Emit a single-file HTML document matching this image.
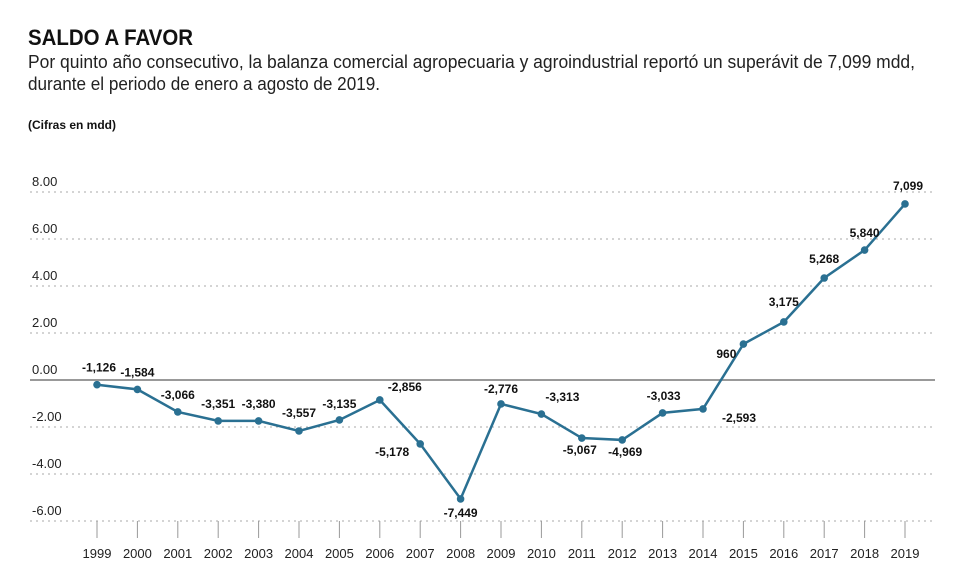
<!DOCTYPE html>
<html><head><meta charset="utf-8"><style>
body{margin:0;background:#fff;}
svg{display:block;font-family:"Liberation Sans",sans-serif;}
</style></head><body>
<svg id="chart" width="958" height="576">
<text x="28" y="45" font-size="22" font-weight="bold" fill="#111" textLength="165" lengthAdjust="spacingAndGlyphs">SALDO A FAVOR</text>
<text x="28" y="68" font-size="18" fill="#222" textLength="887" lengthAdjust="spacingAndGlyphs">Por quinto año consecutivo, la balanza comercial agropecuaria y agroindustrial reportó un superávit de 7,099 mdd,</text>
<text x="28" y="90" font-size="18" fill="#222" textLength="352" lengthAdjust="spacingAndGlyphs">durante el periodo de enero a agosto de 2019.</text>
<text x="28" y="129" font-size="12" font-weight="bold" fill="#111">(Cifras en mdd)</text>
<g id="grid"></g><g id="xaxis"></g><g id="series"></g><g id="labels"></g>
</svg>
<script>
const years=["1999","2000","2001","2002","2003","2004","2005","2006","2007","2008","2009","2010","2011","2012","2013","2014","2015","2016","2017","2018","2019"];
const plotted=[-0.2,-0.4,-1.36,-1.74,-1.74,-2.17,-1.7,-0.85,-2.72,-5.06,-1.02,-1.45,-2.47,-2.55,-1.4,-1.23,1.53,2.47,4.34,5.53,7.49];
const valueLabels=["-1,126","-1,584","-3,066","-3,351","-3,380","-3,557","-3,135","-2,856","-5,178","-7,449","-2,776","-3,313","-5,067","-4,969","-3,033","-2,593","960","3,175","5,268","5,840","7,099"];
const yTicks=[8,6,4,2,0,-2,-4,-6];
const labelDx=[2,0,0,0,0,0,0,25,-28,0,0,21,-2,3,1,36,-17,0,0,0,3];
const labelDy=[-17,-17,-17,-17,-17,-18,-16,-13,8,14,-15,-17,12,12,-17,9,10,-20,-19,-17,-18];
const NS="http://www.w3.org/2000/svg";
const x=i=>97+i*(905-97)/(years.length-1);
const y=v=>380-v*23.5;
function mk(tag,attrs,parent){const e=document.createElementNS(NS,tag);for(const k in attrs)e.setAttribute(k,attrs[k]);parent.appendChild(e);return e;}
const grid=document.getElementById('grid');
yTicks.forEach(t=>{
  const l=mk('line',{x1:30,x2:935,y1:y(t),y2:y(t),stroke:t===0?'#999':'#aaa','stroke-width':t===0?2:1,'stroke-dasharray':t===0?'none':'2,4'},grid);
  
  
  const tx=mk('text',{x:32,y:y(t)-6,'font-size':13,fill:'#222'},grid);
  tx.textContent=t.toFixed(2);
  
  
});
const xa=document.getElementById('xaxis');
years.forEach((yr,i)=>{
  const l=mk('line',{x1:x(i),x2:x(i),y1:521,y2:538,stroke:'#999','stroke-width':1},xa);
  
  
  const t=mk('text',{x:x(i),y:558,'font-size':13,fill:'#222','text-anchor':'middle'},xa);
  t.textContent=yr;
  
  
});
const s=document.getElementById('series');
const pl=mk('polyline',{points:plotted.map((v,i)=>x(i)+','+y(v)).join(' '),fill:'none',stroke:'#2a7092','stroke-width':2.5},s);


const lb=document.getElementById('labels');
plotted.forEach((v,i)=>{
  const c=mk('circle',{cx:x(i),cy:y(v),r:3.8,fill:'#2a7092'},s);
  
  
  const t=mk('text',{x:x(i)+labelDx[i],y:y(v)+labelDy[i]+4,'font-size':12,'font-weight':'bold',fill:'#111','text-anchor':'middle'},lb);
  t.textContent=valueLabels[i];
  
  
});
</script>
</body></html>
